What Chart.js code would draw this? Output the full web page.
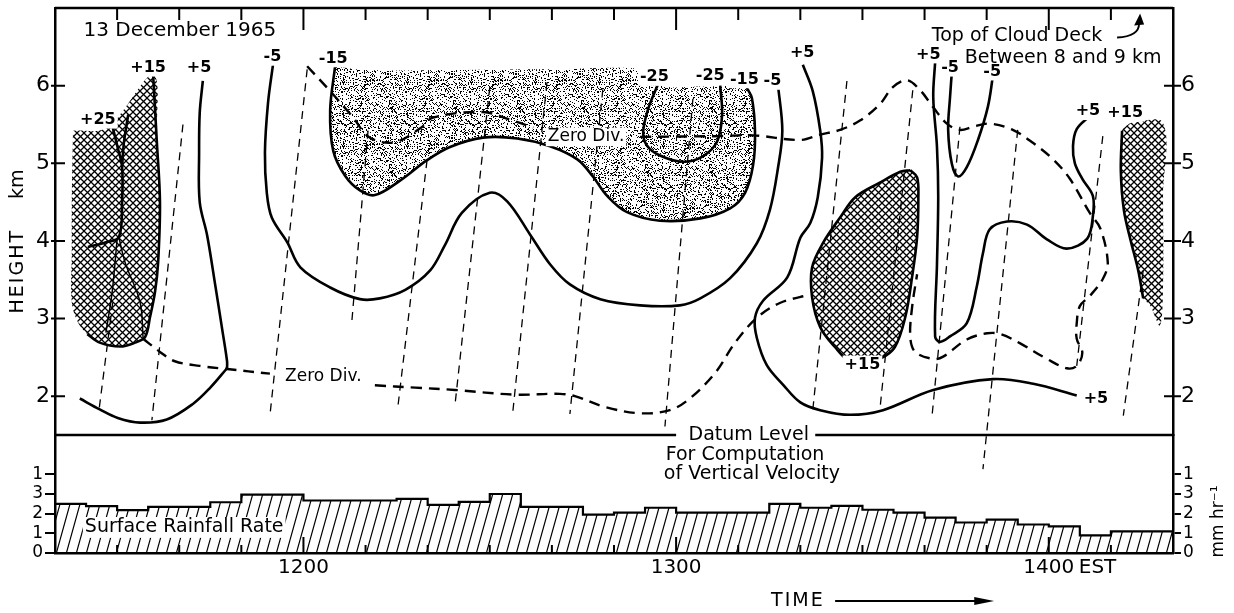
<!DOCTYPE html>
<html>
<head>
<meta charset="utf-8">
<title>Divergence cross-section, 13 December 1965</title>
<script src="https://cdn.jsdelivr.net/npm/chart.js@4.4.1/dist/chart.umd.min.js"></script>
<style>
  html, body { margin: 0; padding: 0; background: #fff; }
  #wrap { position: relative; width: 1234px; height: 613px; }
</style>
</head>
<body>
<div id="wrap"><canvas id="divChart" width="1234" height="613"></canvas></div>
<script>
// time = minutes after 1120 EST, height in km, rain in mm/hr

const timeTicks = [0, 10, 20, 30, 40, 50, 60, 70, 80, 90, 100, 110, 120, 130, 140, 150, 160, 170, 180];
const hourTicks = [40, 100, 160];
const hourNames = ['1200', '1300', '1400'];
const heightTicks = [2, 3, 4, 5, 6];
const rainTicks = [0, 1, 2, 3, 4];
const rainTickNames = ['0', '1', '2', '3', '1'];

// surface rainfall, 5 minute steps
const rainStart = [0, 5, 10, 15, 20, 25, 30, 35, 40, 45, 50, 55, 60, 65, 70, 75, 80, 85, 90,
  95, 100, 105, 110, 115, 120, 125, 130, 135, 140, 145, 150, 155, 160, 165, 170, 175, 180];
const rainRate = [2.5, 2.38, 2.18, 2.35, 2.35, 2.58, 2.97, 2.97, 2.67, 2.67, 2.67, 2.75, 2.45, 2.6, 3.0,
  2.35, 2.35, 1.95, 2.05, 2.3, 2.05, 2.05, 2.05, 2.5, 2.3, 2.4, 2.2, 2.05, 1.8, 1.55, 1.7, 1.45,
  1.35, 0.9, 1.1, 1.1, 1.1];

// divergence isolines [minute, km]
const plus25A = [[9.2,5.49],[10.1,5.20],[10.8,4.95],[10.8,4.50],[10.3,4.05],[8.1,3.98],[5.3,3.92]];
const plus25B = [[11.8,5.63],[11.1,5.27],[10.8,4.95]];
const innerA = [[10.3,4.04],[11.3,3.72],[13.7,3.21],[14.2,2.73]];
const innerB = [[10.0,4.02],[9.2,3.34],[8.2,2.82]];
const plus15Left = [[15.8,6.14],[16.4,5.27],[16.9,4.50],[16.6,3.72],[16.1,3.34],[15.3,3.02],[14.5,2.76],[12.9,2.69],[10.5,2.64],[7.2,2.69],[5.2,2.80]];
const cellLeft = [[2.9,5.42],[8.4,5.46],[15.8,6.14],[16.4,5.27],[16.9,4.50],[16.6,3.72],[16.1,3.34],[15.3,3.02],[14.5,2.76],[12.9,2.69],[10.5,2.64],[7.2,2.69],[5.2,2.80],[3.7,2.95],[2.7,3.21],[2.7,3.85],[2.7,4.50],[2.9,5.42]];
const plus5LeftA = [[23.8,6.06],[23.3,5.65],[23.2,5.14],[23.3,4.50],[24.5,4.07],[25.8,3.43],[26.9,2.87],[27.7,2.45],[27.7,2.36]];
const plus5LeftB = [[27.7,2.36],[25.0,2.11],[22.2,1.90],[18.0,1.70],[13.7,1.66],[10.1,1.72],[7.2,1.83],[4.0,1.97]];
const minus5Big = [[35.1,6.27],[34.3,5.78],[33.8,5.14],[34.1,4.62],[34.9,4.30],[37.4,3.98],[39.5,3.66],[44.3,3.40],[49.1,3.25],[52.3,3.26],[56.4,3.37],[60.4,3.62],[62.8,3.95],[65.5,4.36],[70.0,4.62],[72.8,4.51],[76.5,4.08],[79.7,3.70],[82.9,3.44],[87.8,3.25],[94.2,3.17],[100.6,3.17],[103.9,3.26],[108.7,3.52],[113.0,3.97],[115.1,4.40],[116.4,4.94],[117.1,5.42],[116.4,6.01]];
const minus15Line = [[45.1,6.25],[44.3,5.68],[44.8,5.16],[46.7,4.84],[49.1,4.65],[51.5,4.59],[55.6,4.78],[59.9,5.04],[63.6,5.21],[68.9,5.33],[74.4,5.32],[79.7,5.22],[84.1,5.05],[86.6,4.83],[88.9,4.58],[92.1,4.37],[97.4,4.26],[103.9,4.29],[108.7,4.42],[111.1,4.62],[112.4,4.98],[112.7,5.41],[112.2,5.84],[111.4,5.97]];
const stippleTop = [[104.0,5.99],[98.0,6.0],[96.0,6.2],[80.0,6.21],[64.0,6.2],[50.0,6.2],[45.1,6.25]];
const minus25Line = [[97.1,6.02],[95.5,5.70],[94.7,5.40],[95.3,5.23],[97.4,5.10],[101.1,5.02],[104.3,5.09],[106.6,5.28],[107.4,5.62],[107.1,6.0]];
const plus5Right = [[120.4,6.27],[122.0,5.93],[123.2,5.42],[123.5,5.07],[122.8,4.56],[121.6,4.23],[120.0,4.04],[117.9,3.53],[114.0,3.23],[112.7,3.01],[113.0,2.75],[114.6,2.40],[117.2,2.15],[120.0,1.92],[123.2,1.82],[128.0,1.76],[133.3,1.82],[141.4,2.08],[151.0,2.22],[157.5,2.16],[164.5,2.01]];
const cellMid = [[137.7,4.91],[138.8,4.82],[139.0,4.56],[138.8,4.05],[138.0,3.54],[136.9,3.02],[135.2,2.63],[132.8,2.48],[129.9,2.43],[128.0,2.44],[125.6,2.63],[123.2,2.89],[121.9,3.27],[121.9,3.66],[123.7,3.98],[126.4,4.30],[128.8,4.56],[132.8,4.75],[136.1,4.89],[137.7,4.91]];
const plus5Mid = [[141.7,6.30],[141.4,5.85],[142.0,5.21],[142.2,4.57],[142.0,3.70],[141.7,2.77],[142.5,2.70],[144.1,2.77],[146.8,2.94],[148.4,3.41],[149.4,3.84],[150.5,4.15],[153.3,4.25],[156.5,4.21],[159.7,4.02],[162.9,3.90],[166.2,4.03],[167.1,4.32],[167.1,4.58],[165.4,4.80],[164.2,5.00],[163.9,5.22],[164.5,5.44],[166.6,5.61]];
const minus5Small = [[144.4,6.18],[144.1,5.85],[143.8,5.43],[144.4,4.99],[145.4,4.83],[146.8,4.95],[148.6,5.30],[150.2,5.73],[151.0,6.12]];
const cellRight = [[173.1,5.52],[178.4,5.52],[178.4,4.58],[178.4,3.43],[177.9,2.91],[176.3,3.17],[175.2,3.26],[174.4,3.62],[173.2,4.00],[172.1,4.39],[171.6,4.90],[171.8,5.42],[173.1,5.52]];
const plus15Right = [[171.8,5.42],[171.6,4.90],[172.1,4.39],[173.2,4.00],[174.4,3.62],[175.2,3.26]];

// zero divergence line
const zeroDivUpperA = [[40.6,6.25],[44.3,5.93],[47.8,5.61],[50.7,5.33],[54.7,5.27],[58.8,5.45],[60.9,5.59],[68.9,5.66],[73.3,5.56],[77.0,5.46]];
const zeroDivUpperB = [[94.2,5.34],[107.1,5.35],[112.4,5.36],[120.0,5.30],[123.2,5.37],[126.4,5.43],[129.6,5.55],[132.8,5.76],[134.9,5.98],[137.2,6.07],[139.3,5.94],[141.4,5.72],[143.6,5.51],[145.7,5.43],[147.8,5.47],[150.5,5.51],[154.2,5.43],[157.5,5.26],[160.7,5.05],[163.4,4.80],[166.6,4.36],[168.3,4.16],[169.5,3.72],[168.7,3.51],[166.6,3.29],[165.0,3.16],[164.5,2.94],[164.5,2.74],[165.4,2.56],[164.5,2.39],[162.9,2.36],[159.7,2.48],[155.4,2.68],[152.2,2.80],[150.1,2.81],[146.8,2.73],[143.0,2.51],[141.4,2.48],[138.5,2.57],[137.7,2.76],[138.0,3.15],[138.8,3.57]];
const zeroDivLowerA = [[14.2,2.74],[16.9,2.57],[19.3,2.45],[23.3,2.39],[27.7,2.35],[34.6,2.29]];
const zeroDivLowerB = [[51.5,2.14],[58.0,2.11],[64.4,2.08],[74.1,2.02],[81.3,2.03],[83.7,2.0],[88.6,1.86],[94.2,1.78],[99.0,1.82],[102.2,1.97],[106.3,2.30],[109.5,2.69],[113.0,3.01],[116.7,3.20],[121.6,3.31]];

// thin dashed lines, [top, bottom]
const traceEnds = [
  [[9.3,3.21],[7.1,1.83]], [[20.6,5.50],[15.6,1.69]], [[40.6,6.21],[34.6,1.75]],
  [[50.4,5.42],[47.8,2.97]], [[59.9,5.04],[55.2,1.86]], [[70.0,5.98],[64.4,1.89]],
  [[79.2,6.04],[73.7,1.79]], [[88.2,5.95],[82.9,1.77]], [[102.7,5.83],[98.2,1.61]],
  [[127.5,6.06],[122.0,1.82]], [[138.1,5.94],[132.8,1.82]], [[145.7,5.47],[141.2,1.74]],
  [[155.0,5.43],[149.4,1.06]], [[168.7,5.35],[164.5,2.39]], [[175.2,3.62],[172.0,1.75]]
];

const datumLeft = [[0, 1.5], [100, 1.5]];
const datumRight = [[122.4, 1.5], [180, 1.5]];

const contourLabels = [
  ['+25', 6.9, 5.56], ['+15', 15.0, 6.23], ['+5', 23.2, 6.23], ['-5', 35.0, 6.37], ['-15', 44.8, 6.35],
  ['-25', 96.5, 6.11], ['-25', 105.5, 6.13], ['-15', 111.0, 6.08], ['-5', 115.5, 6.06],
  ['+5', 120.3, 6.42], ['+5', 140.6, 6.40], ['-5', 144.1, 6.23], ['-5', 150.9, 6.18],
  ['+5', 166.3, 5.67], ['+15', 172.3, 5.65], ['+15', 130.0, 2.41], ['+5', 167.6, 1.96]
];

Chart.defaults.font.family = '"DejaVu Sans"';
Chart.defaults.color = '#000';

const canvas = document.getElementById('divChart');
const ctx = canvas.getContext('2d');

function makePattern(w, h, paint) {
  const c = document.createElement('canvas');
  c.width = w; c.height = h;
  const g = c.getContext('2d');
  paint(g, w, h);
  return ctx.createPattern(c, 'repeat');
}

const crossHatch = makePattern(7, 7, (g, w, h) => {
  g.strokeStyle = '#000';
  g.lineWidth = 1.3;
  g.beginPath();
  g.moveTo(-1, -1); g.lineTo(w + 1, h + 1);
  g.moveTo(-1, h + 1); g.lineTo(w + 1, -1);
  g.stroke();
});

const stipple = makePattern(64, 64, (g, w, h) => {
  let s = 12345;
  g.fillStyle = '#000';
  for (let j = 0; j < h; j++) {
    for (let i = 0; i < w; i++) {
      s = (Math.imul(s, 1103515245) + 12345) >>> 0;
      if ((s >>> 16) % 100 < 24) g.fillRect(i, j, 1, 1);
    }
  }
});

const rainHatch = makePattern(10, 36, (g, w, h) => {
  g.strokeStyle = '#000';
  g.lineWidth = 1.2;
  g.beginPath();
  [-w, 0, w].forEach(dx => { g.moveTo(dx, h); g.lineTo(dx + w, 0); });
  g.stroke();
});

const xy = pts => pts.map(p => ({x: p[0], y: p[1]}));
const none = 'rgba(0,0,0,0)';

function contour(pts, width) {
  return {data: xy(pts), borderWidth: width || 2.6, order: 1};
}
function zeroLine(pts) {
  return {data: xy(pts), borderWidth: 2.4, borderDash: [11, 7], order: 1};
}
function trace(pts) {
  return {data: xy(pts), borderWidth: 1.3, borderDash: [8, 6], tension: 0, order: 2};
}
function cell(pts, pattern, edge) {
  return {data: xy(pts), backgroundColor: pattern, fill: 'shape',
          borderColor: edge ? '#000' : none, borderWidth: edge || 1, order: 4};
}

const datasets = [
  contour(plus25A), contour(plus25B), contour(innerA, 1.5), contour(innerB, 1.5),
  contour(plus15Left), contour(plus5LeftA), contour(plus5LeftB),
  contour(minus5Big), contour(minus15Line), contour(minus25Line),
  contour(plus5Right), contour(plus5Mid), contour(minus5Small), contour(plus15Right),
  zeroLine(zeroDivUpperA), zeroLine(zeroDivUpperB), zeroLine(zeroDivLowerA), zeroLine(zeroDivLowerB),
  ...traceEnds.map(trace),
  {data: xy(datumLeft), borderWidth: 2.5, tension: 0, order: 1},
  {data: xy(datumRight), borderWidth: 2.5, tension: 0, order: 1},
  cell(cellLeft, crossHatch, 0), cell(cellMid, crossHatch, 2.6), cell(cellRight, crossHatch, 0),
  cell(minus15Line.concat(stippleTop), stipple, 0),
  {
    data: rainStart.map((t, i) => ({x: t, y: rainRate[i]})),
    yAxisID: 'yR', stepped: true, tension: 0, fill: 'origin',
    backgroundColor: rainHatch, borderWidth: 2.2, order: 3
  }
];

function heightAxis(position, stack, weight, width, pad) {
  return {
    type: 'linear', position, stack, stackWeight: 427, weight, min: 1.5, max: 7,
    afterBuildTicks: s => { s.ticks = heightTicks.map(v => ({value: v})); },
    ticks: {color: '#000', font: {size: 22}, padding: pad, autoSkip: false},
    grid: {drawOnChartArea: false, drawTicks: false},
    border: {color: '#000', width: 2.5},
    afterFit: s => { s.width = width; s.paddingTop = 0; s.paddingBottom = 0; }
  };
}
function rainAxis(position, stack, weight, width, tick) {
  return {
    type: 'linear', position, stack, stackWeight: 118, weight, min: 0, max: 6,
    afterBuildTicks: s => { s.ticks = rainTicks.map(v => ({value: v})); },
    ticks: {color: '#000', font: {size: 17}, padding: 2, autoSkip: false,
            callback: v => rainTickNames[rainTicks.indexOf(v)]},
    grid: {drawOnChartArea: false, drawTicks: true, tickLength: tick, color: '#000', lineWidth: 2},
    border: {color: '#000', width: 2.5},
    afterFit: s => { s.width = width; s.paddingTop = 0; s.paddingBottom = 0; }
  };
}

function write(c, text, x, y, size, boxed, align, weight) {
  c.font = (weight || 'normal') + ' ' + size + 'px "DejaVu Sans"';
  c.textAlign = align || 'center';
  c.textBaseline = 'middle';
  if (boxed) {
    const w = c.measureText(text).width;
    const left = c.textAlign === 'center' ? x - w / 2 : x;
    c.fillStyle = '#fff';
    c.fillRect(left - 2, y - size * 0.55, w + 4, size * 1.1);
  }
  c.fillStyle = '#000';
  c.fillText(text, x, y);
}

const decor = {
  id: 'decor',
  afterDraw(chart) {
    const {ctx: c, chartArea: a, scales} = chart;
    const px = t => scales.x.getPixelForValue(t);
    const hy = h => scales.y.getPixelForValue(h);
    const ry = r => scales.yR.getPixelForValue(r);
    c.save();
    c.strokeStyle = '#000';
    c.fillStyle = '#000';

    // top of frame
    c.lineWidth = 2.5;
    c.beginPath(); c.moveTo(a.left, a.top); c.lineTo(a.right, a.top); c.stroke();

    // inward ticks
    c.lineWidth = 2;
    c.beginPath();
    timeTicks.slice(1, -1).forEach(t => {
      const x = px(t), hour = hourTicks.includes(t);
      c.moveTo(x, a.top); c.lineTo(x, a.top + (hour ? 22 : 12));
      c.moveTo(x, a.bottom); c.lineTo(x, a.bottom - (hour ? 16 : 8));
    });
    heightTicks.forEach(h => {
      const y = hy(h);
      c.moveTo(a.left - 4, y); c.lineTo(a.left + 10, y);
      c.moveTo(a.right - 9, y); c.lineTo(a.right + 8, y);
    });
    c.stroke();

    // isoline labels
    contourLabels.forEach(([txt, t, h]) => write(c, txt, px(t), hy(h), 16, true, 'center', 'bold'));
    write(c, 'Zero Div.', px(85.5), hy(5.34), 17, true);
    write(c, 'Zero Div.', px(43.2), hy(2.25), 17, true);

    // annotations
    write(c, '13 December 1965', px(20.1), hy(6.70), 20);
    write(c, 'Top of Cloud Deck', px(154.9), hy(6.64), 19);
    write(c, 'Between 8 and 9 km', px(162.3), hy(6.36), 19);
    const sx = px(171.0), sy = hy(6.62);
    c.lineWidth = 1.8;
    c.beginPath(); c.moveTo(sx, sy); c.quadraticCurveTo(sx + 22, sy - 1, sx + 22, sy - 14); c.stroke();
    c.beginPath(); c.moveTo(sx + 23, sy - 24); c.lineTo(sx + 17, sy - 12); c.lineTo(sx + 27, sy - 13); c.closePath(); c.fill();

    write(c, 'Datum Level', px(111.7), hy(1.5), 19);
    write(c, 'For Computation', px(111.1), ry(4.98), 19);
    write(c, 'of Vertical Velocity', px(112.2), ry(4.02), 19);
    write(c, 'Surface Rainfall Rate', px(20.8), ry(1.3), 19, true);

    // axis titles
    write(c, 'EST', px(160) + 30, a.bottom + 15, 20, false, 'left');
    const ty = a.bottom + 48;
    c.letterSpacing = '2px';
    write(c, 'TIME', px(119.6), ty, 19);
    c.letterSpacing = '0px';
    c.lineWidth = 1.8;
    c.beginPath(); c.moveTo(px(125.6), ty); c.lineTo(px(149), ty); c.stroke();
    c.beginPath(); c.moveTo(px(151.2), ty); c.lineTo(px(148), ty - 4); c.lineTo(px(148), ty + 4); c.closePath(); c.fill();

    c.save();
    c.translate(18, 0);
    c.rotate(-Math.PI / 2);
    c.letterSpacing = '2px';
    write(c, 'HEIGHT', -hy(3.61), 0, 19);
    c.letterSpacing = '0px';
    write(c, 'km', -hy(4.73), 0, 19);
    c.restore();

    c.save();
    c.translate(1219, 0);
    c.rotate(-Math.PI / 2);
    write(c, 'mm hr\u207B\u00B9', -ry(1.6), 0, 17);
    c.restore();

    c.restore();
  }
};

new Chart(ctx, {
  type: 'line',
  data: {datasets},
  options: {
    responsive: false,
    animation: false,
    events: [],
    layout: {padding: {top: 8, left: 0, right: 0, bottom: 0}},
    datasets: {
      line: {borderColor: '#000', pointRadius: 0, tension: 0.35, fill: false, clip: false,
             xAxisID: 'x', yAxisID: 'y'}
    },
    plugins: {legend: {display: false}, tooltip: {enabled: false}},
    scales: {
      x: {
        type: 'linear', position: 'bottom', min: 0, max: 180,
        afterBuildTicks: s => { s.ticks = hourTicks.map(v => ({value: v})); },
        ticks: {autoSkip: false, maxRotation: 0, padding: 3, color: '#000', font: {size: 20},
                callback: v => hourNames[hourTicks.indexOf(v)]},
        grid: {drawOnChartArea: false, drawTicks: false},
        border: {color: '#000', width: 2.5},
        afterFit: s => { s.height = 60; s.paddingLeft = 0; s.paddingRight = 0; }
      },
      y: heightAxis('left', 'left', 1, 55, 5),
      yR: rainAxis('left', 'left', 0, 55, 10),
      y2: heightAxis('right', 'right', 0, 61, 8),
      yR2: rainAxis('right', 'right', 1, 61, 8)
    }
  },
  plugins: [decor]
});
</script>
</body>
</html>
